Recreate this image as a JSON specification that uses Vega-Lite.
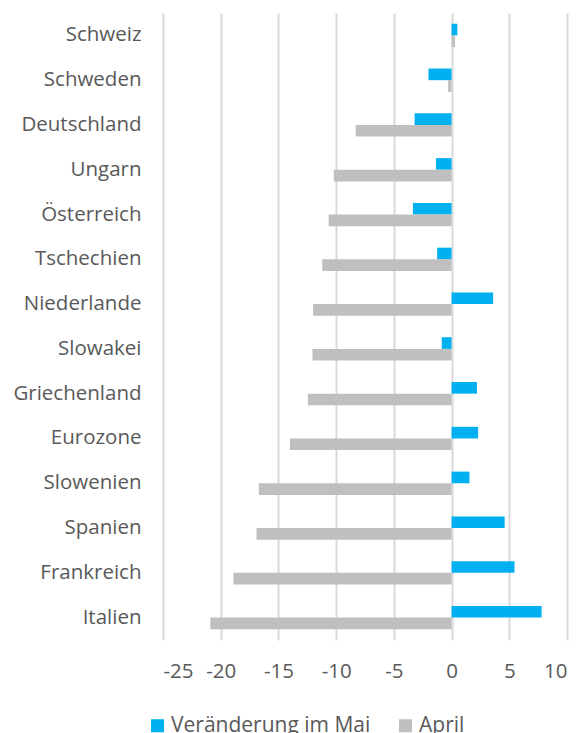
{
  "$schema": "https://vega.github.io/schema/vega-lite/v6.json",
  "width": 404,
  "height": 627,
  "autosize": "none",
  "padding": {"left": 163, "top": 13, "right": 15, "bottom": 93},
  "background": "white",
  "config": {"view": {"stroke": null}, "font": "Open Sans"},
  "data": {"values": [
    {"land": "Schweiz", "serie": "Veränderung im Mai", "wert": 0.5},
    {"land": "Schweiz", "serie": "April", "wert": 0.3},
    {"land": "Schweden", "serie": "Veränderung im Mai", "wert": -2.0},
    {"land": "Schweden", "serie": "April", "wert": -0.3},
    {"land": "Deutschland", "serie": "Veränderung im Mai", "wert": -3.2},
    {"land": "Deutschland", "serie": "April", "wert": -8.3},
    {"land": "Ungarn", "serie": "Veränderung im Mai", "wert": -1.35},
    {"land": "Ungarn", "serie": "April", "wert": -10.2},
    {"land": "Österreich", "serie": "Veränderung im Mai", "wert": -3.35},
    {"land": "Österreich", "serie": "April", "wert": -10.65},
    {"land": "Tschechien", "serie": "Veränderung im Mai", "wert": -1.25},
    {"land": "Tschechien", "serie": "April", "wert": -11.2},
    {"land": "Niederlande", "serie": "Veränderung im Mai", "wert": 3.6},
    {"land": "Niederlande", "serie": "April", "wert": -12.0},
    {"land": "Slowakei", "serie": "Veränderung im Mai", "wert": -0.85},
    {"land": "Slowakei", "serie": "April", "wert": -12.05},
    {"land": "Griechenland", "serie": "Veränderung im Mai", "wert": 2.2},
    {"land": "Griechenland", "serie": "April", "wert": -12.45},
    {"land": "Eurozone", "serie": "Veränderung im Mai", "wert": 2.3},
    {"land": "Eurozone", "serie": "April", "wert": -14.0},
    {"land": "Slowenien", "serie": "Veränderung im Mai", "wert": 1.55},
    {"land": "Slowenien", "serie": "April", "wert": -16.7},
    {"land": "Spanien", "serie": "Veränderung im Mai", "wert": 4.6},
    {"land": "Spanien", "serie": "April", "wert": -16.9},
    {"land": "Frankreich", "serie": "Veränderung im Mai", "wert": 5.45},
    {"land": "Frankreich", "serie": "April", "wert": -18.9},
    {"land": "Italien", "serie": "Veränderung im Mai", "wert": 7.8},
    {"land": "Italien", "serie": "April", "wert": -20.9}
  ]},
  "mark": {"type": "bar"},
  "encoding": {
    "y": {
      "field": "land", "type": "nominal", "sort": null,
      "scale": {"paddingInner": 0.48, "paddingOuter": 0.24},
      "axis": {"title": null, "ticks": false, "domain": false, "labelPadding": 22,
               "labelFontSize": 20.5, "labelColor": "#595959", "labelFont": "Open Sans"}
    },
    "x": {
      "field": "wert", "type": "quantitative",
      "scale": {"domain": [-25, 10], "nice": false, "zero": false},
      "axis": {"title": null, "values": [-25, -20, -15, -10, -5, 0, 5, 10], "ticks": false, "domain": false,
               "grid": true, "gridColor": "#d9d9d9", "gridWidth": 2, "labelPadding": 21,
               "labelExpr": "replace(datum.label, '−', '-')",
               "labelFontSize": 20.5, "labelColor": "#595959", "labelFont": "Open Sans"}
    },
    "yOffset": {"field": "serie", "type": "nominal", "sort": ["Veränderung im Mai", "April"]},
    "color": {
      "field": "serie", "type": "nominal",
      "scale": {"domain": ["Veränderung im Mai", "April"], "range": ["#00B0F0", "#BFBFBF"]},
      "legend": {"title": null, "orient": "none", "direction": "horizontal", "legendX": -16, "legendY": 702,
                 "symbolType": "square", "symbolSize": 169, "symbolStrokeWidth": 0, "labelLimit": 0,
                 "labelFontSize": 21, "labelColor": "#595959", "labelFont": "Open Sans",
                 "columnPadding": 24, "symbolOffset": 0, "labelOffset": 3}
    }
  }
}
